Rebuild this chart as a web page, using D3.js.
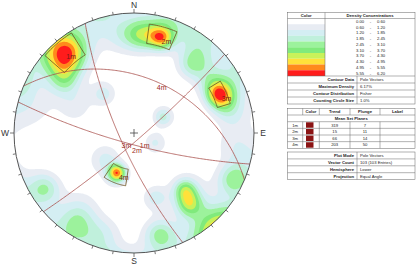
<!DOCTYPE html>
<html lang="en">
<head>
<meta charset="UTF-8">
<script src="https://d3js.org/d3.v7.min.js"></script>
<style>
  body { margin: 0; background: #fff; }
  svg { display: block; font-family: "Liberation Sans", "DejaVu Sans", sans-serif; }
</style>
</head>
<body>
<div id="chart"></div>
<script>
const width = 420, height = 270;
const cx = 134, cy = 133, R = 120;

// density classes (%)
const levels = [0.00, 0.60, 1.20, 1.85, 2.45, 3.10, 3.70, 4.30, 4.95, 5.55, 6.20];
const levelColors = ["#ffffff", "#e8ecf3", "#d4eef3", "#c0f0dc", "#9cf29c", "#80ea7c", "#c8f25a", "#ffe13a", "#ff8a1c", "#ff1c1c"];

// pole concentrations: trend, plunge, peak %, spread (deg)
const clusterTrend  = [319, 307, 322, 285, 295, 341, 353, 16, 5, 20, 40, 40, 35, 66, 55, 77, 60, 61, 115, 203, 227, 238, 212, 197, 215, 162, 138, 142, 140, 115, 166, 97];
const clusterPlunge = [7.4, 18, 45, 6, 33, 1, 11, 11, 11, 5, 11, 18, 2, 14, 15, 11, 0, 59, 68, 50, 54, 8, 7, 7, 14, 31, 25, 16, 20, 5, 8, 9];
const clusterPeak   = [5.9, 2.0, 1.5, 1.0, 1.0, 0.8, 1.3, 4.0, 3.2, 1.0, 1.4, 1.4, 0.9, 5.2, 1.5, 1.5, 0.9, 2.1, 1.3, 5.3, 1.4, 2.0, 1.3, 1.2, 1.0, 1.4, 2.8, 2.8, 0.9, 2.6, 2.3, 1.0];
const clusterSpread = [9, 7, 7, 9, 9, 8, 8, 5, 7, 8, 7, 6, 9, 6, 7, 7, 8, 6, 7, 5.5, 9, 6, 7, 7, 9, 6, 5.5, 5.5, 12, 6, 6, 8];

// mean set planes (poles)
const setLabels = ["1m", "2m", "3m", "4m"];
const setTrend = [319, 15, 66, 203];
const setPlunge = [7, 11, 14, 50];
const setWinTrend = [[311, 328], [8, 23], [59, 73], [189, 214]];
const setWinPlunge = [[1, 15], [5, 16], [10, 18], [42, 56]];

// info tables
const contourLabels = ["Contour Data", "Maximum Density", "Contour Distribution", "Counting Circle Size"];
const contourValues = ["Pole Vectors", "6.17%", "Fisher", "1.0%"];
const plotLabels = ["Plot Mode", "Vector Count", "Hemisphere", "Projection"];
const plotValues = ["Pole Vectors", "103 (103 Entries)", "Lower", "Equal Angle"];
const setHeaders = ["", "Color", "Trend", "Plunge", "Label"];

const svg = d3.select("#chart").append("svg")
    .attr("width", width)
    .attr("height", height);

const rad = Math.PI / 180;
const rScale = d3.scaleLinear().domain([0, 1]).range([0, R]);

// equal angle, lower hemisphere
function project(trend, plunge) {
    const r = rScale(Math.tan((90 - plunge) * rad / 2));
    return [cx + r * Math.sin(trend * rad), cy - r * Math.cos(trend * rad)];
}
function toVec(trend, plunge) {
    return [Math.cos(plunge * rad) * Math.sin(trend * rad),
            Math.cos(plunge * rad) * Math.cos(trend * rad),
            Math.sin(plunge * rad)];
}

// ---- density grid ----
const n = 2 * R + 4, gx0 = cx - R - 2, gy0 = cy - R - 2;
const cVec = clusterTrend.map((t, i) => toVec(t, clusterPlunge[i]));
const cKappa = clusterSpread.map(s => 1 / Math.pow(s * rad, 2));
const grid = new Float64Array(n * n);
for (let j = 0; j < n; j++) {
    for (let i = 0; i < n; i++) {
        const dx = gx0 + i + 0.5 - cx, dy = gy0 + j + 0.5 - cy;
        const rr = Math.sqrt(dx * dx + dy * dy) / R;
        const pl = 90 - 2 * Math.atan(rr) / rad;
        const tr = Math.atan2(dx, -dy) / rad;
        const u = toVec(tr, pl);
        let v = 0;
        cVec.forEach((c, k) => {
            const cos = Math.abs(u[0] * c[0] + u[1] * c[1] + u[2] * c[2]);
            v += clusterPeak[k] * Math.exp(cKappa[k] * (cos - 1));
        });
        grid[i + j * n] = v;
    }
}

svg.append("clipPath").attr("id", "net-clip")
    .append("circle").attr("cx", cx).attr("cy", cy).attr("r", R);

const net = svg.append("g").attr("clip-path", "url(#net-clip)");
net.append("circle").attr("cx", cx).attr("cy", cy).attr("r", R).attr("fill", levelColors[0]);

const contours = d3.contours().size([n, n]).thresholds(levels.slice(1, 10))(grid);
net.append("g")
    .attr("transform", `translate(${gx0},${gy0})`)
    .selectAll("path")
    .data(contours)
    .join("path")
    .attr("d", d3.geoPath())
    .attr("fill", (d, i) => levelColors[i + 1]);

// ---- great circles of mean set planes ----
const line = d3.line();
function greatCircle(poleTrend, polePlunge) {
    const dd = (poleTrend + 180) % 360, dip = 90 - polePlunge;
    const s = [Math.sin((dd - 90) * rad), Math.cos((dd - 90) * rad), 0];
    const d = toVec(dd, dip);
    return d3.range(0, 180.5, 1).map(a => {
        const v = [0, 1, 2].map(k => Math.cos(a * rad) * s[k] + Math.sin(a * rad) * d[k]);
        const pl = Math.asin(Math.max(-1, Math.min(1, v[2]))) / rad;
        const tr = Math.atan2(v[0], v[1]) / rad;
        return project(tr, pl);
    });
}
const gc = svg.append("g");
setLabels.forEach((lab, i) => {
    gc.append("path")
        .attr("d", line(greatCircle(setTrend[i], setPlunge[i])))
        .attr("fill", "none")
        .attr("stroke", "#a9514d")
        .attr("stroke-width", 0.8);
    const deep = project((setTrend[i] + 180) % 360, 90 - setPlunge[i]);
    gc.append("text")
        .attr("x", deep[0] + 1).attr("y", deep[1] + 9)
        .attr("font-size", 7).attr("fill", "#9a2a22")
        .text(lab);
});

// ---- set windows ----
function windowPath(tr, pl) {
    const pts = [];
    d3.range(tr[0], tr[1] + 0.01, 1).forEach(t => pts.push(project(t, pl[0])));
    d3.range(tr[1], tr[0] - 0.01, -1).forEach(t => pts.push(project(t, pl[1])));
    return line(pts) + "Z";
}
setLabels.forEach((lab, i) => {
    svg.append("path")
        .attr("d", windowPath(setWinTrend[i], setWinPlunge[i]))
        .attr("fill", "none")
        .attr("stroke", "#6b5320")
        .attr("stroke-width", 0.8);
    const p = project(setTrend[i], setPlunge[i]);
    svg.append("text")
        .attr("x", p[0] + 2).attr("y", p[1] + 6.5)
        .attr("font-size", 7).attr("fill", "#7a1a14")
        .text(lab);
});

// ---- primitive, ticks, labels ----
svg.append("circle").attr("cx", cx).attr("cy", cy).attr("r", R)
    .attr("fill", "none").attr("stroke", "#555").attr("stroke-width", 1);

const tickAz = d3.range(10, 360, 10).filter(a => a % 90 !== 0);
svg.append("g").selectAll("line")
    .data(tickAz)
    .join("line")
    .attr("x1", a => cx + R * Math.sin(a * rad))
    .attr("y1", a => cy - R * Math.cos(a * rad))
    .attr("x2", a => cx + (R + 3) * Math.sin(a * rad))
    .attr("y2", a => cy - (R + 3) * Math.cos(a * rad))
    .attr("stroke", "#555").attr("stroke-width", 0.8);

const cardinals = [["N", 0], ["E", 90], ["S", 180], ["W", 270]];
const card = svg.append("g").attr("font-size", 8.5).attr("fill", "#333");
cardinals.forEach(([lab, a]) => {
    const sx = Math.sin(a * rad), sy = -Math.cos(a * rad);
    svg.append("line")
        .attr("x1", cx + R * sx).attr("y1", cy + R * sy)
        .attr("x2", cx + (R + 4) * sx).attr("y2", cy + (R + 4) * sy)
        .attr("stroke", "#555").attr("stroke-width", 0.8);
    const off = a % 180 === 0 ? 8 : 9;
    card.append("text")
        .attr("x", cx + (R + off) * sx)
        .attr("y", cy + (R + off) * sy)
        .attr("text-anchor", "middle")
        .attr("dominant-baseline", "central")
        .text(lab);
});

svg.append("path")
    .attr("d", `M${cx - 4},${cy}H${cx + 4}M${cx},${cy - 4}V${cy + 4}`)
    .attr("stroke", "#444").attr("stroke-width", 0.8);

// ---- tables ----
const tbl = svg.append("g").attr("font-size", 4.2).attr("fill", "#222");
const bc = "#666", bw = 0.5;
function hline(x1, x2, y) {
    tbl.append("line").attr("x1", x1).attr("x2", x2).attr("y1", y).attr("y2", y)
        .attr("stroke", bc).attr("stroke-width", bw);
}
function vline(x, y1, y2) {
    tbl.append("line").attr("x1", x).attr("x2", x).attr("y1", y1).attr("y2", y2)
        .attr("stroke", bc).attr("stroke-width", bw);
}
function txt(x, y, s, anchor, bold) {
    tbl.append("text").attr("x", x).attr("y", y)
        .attr("text-anchor", anchor || "start")
        .attr("dominant-baseline", "central")
        .attr("font-weight", bold ? "bold" : null)
        .text(s);
}

const tx0 = 287.5, tx1 = 415;

// table 1: density legend
const t1Top = 12.5, t1Head = 18.5, swH = 5.75, t1Sw = t1Head + 10 * swH, kvH = 7;
const kvDiv = 357, colDiv = 325;
d3.range(10).forEach(i => {
    tbl.append("rect")
        .attr("x", tx0).attr("y", t1Head + i * swH)
        .attr("width", colDiv - tx0).attr("height", swH)
        .attr("fill", levelColors[i]);
    const yy = t1Head + (i + 0.5) * swH;
    txt(360, yy, levels[i].toFixed(2), "middle");
    txt(370.5, yy, "-", "middle");
    txt(381, yy, levels[i + 1].toFixed(2), "middle");
});
txt((tx0 + colDiv) / 2, (t1Top + t1Head) / 2, "Color", "middle", true);
txt((colDiv + tx1) / 2, (t1Top + t1Head) / 2, "Density Concentrations", "middle", true);
hline(tx0, tx1, t1Head);
vline(colDiv, t1Top, t1Sw);
contourLabels.forEach((lab, i) => {
    const y = t1Sw + i * kvH;
    hline(tx0, tx1, y);
    txt(kvDiv - 3, y + kvH / 2, lab, "end", true);
    txt(kvDiv + 3, y + kvH / 2, contourValues[i]);
});
const t1Bot = t1Sw + 4 * kvH;
vline(kvDiv, t1Sw, t1Bot);
tbl.append("rect").attr("x", tx0).attr("y", t1Top).attr("width", tx1 - tx0).attr("height", t1Bot - t1Top)
    .attr("fill", "none").attr("stroke", bc).attr("stroke-width", bw);

// table 2: mean set planes
const t2Top = 108.3, t2Head = 115, t2Title = 121.7, rowH = 6.65;
const cols = [tx0, 302.7, 319.3, 350, 380, tx1];
const t2Bot = t2Title + 4 * rowH;
setHeaders.forEach((h, i) => {
    if (h) txt((cols[i] + cols[i + 1]) / 2, (t2Top + t2Head) / 2, h, "middle", true);
});
cols.slice(1, 5).forEach(x => vline(x, t2Top, t2Head));
hline(tx0, tx1, t2Head);
txt((tx0 + tx1) / 2, (t2Head + t2Title) / 2, "Mean Set Planes", "middle", true);
setLabels.forEach((lab, i) => {
    const y = t2Title + i * rowH;
    hline(tx0, tx1, y);
    tbl.append("rect").attr("x", 306).attr("y", y + 0.6).attr("width", 7.5).attr("height", rowH - 1.2)
        .attr("fill", "#8b1414");
    txt((cols[0] + cols[1]) / 2, y + rowH / 2, lab, "middle");
    txt((cols[2] + cols[3]) / 2, y + rowH / 2, String(setTrend[i]), "middle");
    txt((cols[3] + cols[4]) / 2, y + rowH / 2, String(setPlunge[i]), "middle");
});
cols.slice(1, 5).forEach(x => vline(x, t2Title, t2Bot));
tbl.append("rect").attr("x", tx0).attr("y", t2Top).attr("width", tx1 - tx0).attr("height", t2Bot - t2Top)
    .attr("fill", "none").attr("stroke", bc).attr("stroke-width", bw);

// table 3: plot info
const t3Top = 152, t3H = 6.9;
plotLabels.forEach((lab, i) => {
    const y = t3Top + i * t3H;
    if (i) hline(tx0, tx1, y);
    txt(kvDiv - 3, y + t3H / 2, lab, "end", true);
    txt(kvDiv + 3, y + t3H / 2, plotValues[i]);
});
vline(kvDiv, t3Top, t3Top + 4 * t3H);
tbl.append("rect").attr("x", tx0).attr("y", t3Top).attr("width", tx1 - tx0).attr("height", 4 * t3H)
    .attr("fill", "none").attr("stroke", bc).attr("stroke-width", bw);
</script>
</body>
</html>
